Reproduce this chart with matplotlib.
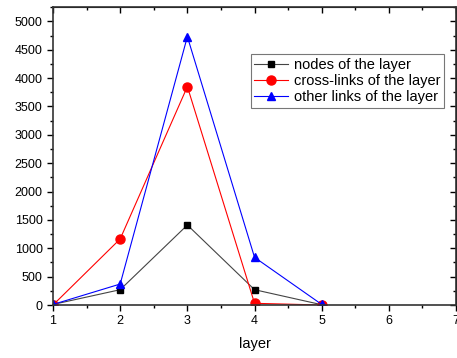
import matplotlib
matplotlib.use('Agg')
import matplotlib.pyplot as plt
from matplotlib.ticker import MultipleLocator

plt.rcParams['font.family'] = ['Liberation Sans', 'DejaVu Sans']

layers = [1, 2, 3, 4, 5]
nodes = [10, 270, 1410, 270, 5]
cross_links = [0, 1165, 3850, 30, 0]
other_links = [10, 370, 4730, 840, 10]

fig = plt.figure(figsize=(4.57, 3.58), dpi=100)
ax = fig.add_axes([0.116, 0.148, 0.882, 0.832])

ax.plot(layers, nodes, color='#444444', lw=0.8, marker='s', ms=5,
        mfc='black', mec='black', label='nodes of the layer')
ax.plot(layers, cross_links, color='red', lw=0.8, marker='o', ms=6.5,
        mfc='red', mec='red', label='cross-links of the layer')
ax.plot(layers, other_links, color='blue', lw=0.8, marker='^', ms=6,
        mfc='blue', mec='blue', label='other links of the layer')

ax.set_xlim(1, 7)
ax.set_ylim(0, 5250)
ax.xaxis.set_major_locator(MultipleLocator(1))
ax.xaxis.set_minor_locator(MultipleLocator(0.5))
ax.yaxis.set_major_locator(MultipleLocator(500))
ax.yaxis.set_minor_locator(MultipleLocator(250))

ax.tick_params(which='both', direction='out', top=False, right=False,
               labelsize=9, width=1)
ax.tick_params(which='major', length=4)
ax.tick_params(which='minor', length=2.5)

# inward ticks on the top and right edges
sec_x = ax.secondary_xaxis('top')
sec_x.xaxis.set_major_locator(MultipleLocator(1))
sec_x.xaxis.set_minor_locator(MultipleLocator(0.5))
sec_x.tick_params(which='both', direction='in', labeltop=False, width=1)
sec_x.tick_params(which='major', length=4)
sec_x.tick_params(which='minor', length=2.5)
sec_y = ax.secondary_yaxis('right')
sec_y.yaxis.set_major_locator(MultipleLocator(500))
sec_y.yaxis.set_minor_locator(MultipleLocator(250))
sec_y.tick_params(which='both', direction='in', labelright=False, width=1)
sec_y.tick_params(which='major', length=4)
sec_y.tick_params(which='minor', length=2.5)

for sp in ax.spines.values():
    sp.set_linewidth(1.2)
    sp.set_color('#333333')

ax.set_xlabel('layer', fontsize=10.5, labelpad=7)

leg = ax.legend(loc='upper left', bbox_to_anchor=(0.49, 0.842), fontsize=10.5,
                frameon=True, fancybox=False, handlelength=2.3,
                borderpad=0.25, labelspacing=0.15, handletextpad=0.4,
                borderaxespad=0)
leg.get_frame().set_edgecolor('#555555')
leg.get_frame().set_linewidth(0.8)

fig.savefig('out.png', dpi=100)
